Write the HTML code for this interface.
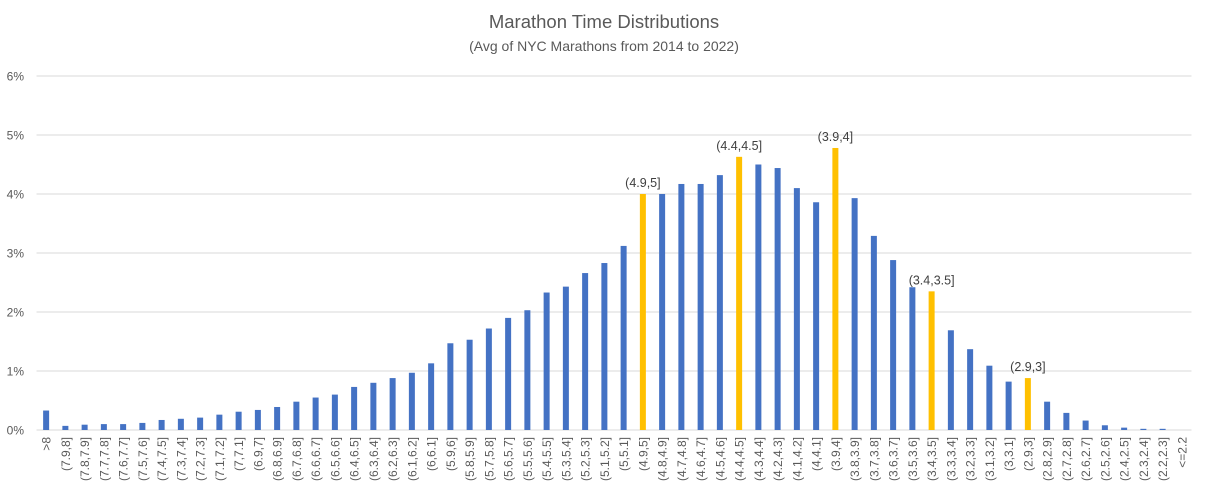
<!DOCTYPE html>
<html><head><meta charset="utf-8"><style>
body{margin:0;background:#fff;}
svg{display:block;font-family:"Liberation Sans",Arial,sans-serif;}
</style></head><body>
<svg id="chart" width="1208" height="494">
<text x="604" y="28" text-anchor="middle" font-size="18.5" fill="#595959">Marathon Time Distributions</text>
<text x="604" y="51" text-anchor="middle" font-size="14" fill="#595959">(Avg of NYC Marathons from 2014 to 2022)</text>
<g id="grid"></g><g id="bars"></g><g id="labels"></g>
</svg>
<script>
const categories = [">8","(7.9,8]","(7.8,7.9]","(7.7,7.8]","(7.6,7.7]","(7.5,7.6]","(7.4,7.5]","(7.3,7.4]","(7.2,7.3]","(7.1,7.2]","(7,7.1]","(6.9,7]","(6.8,6.9]","(6.7,6.8]","(6.6,6.7]","(6.5,6.6]","(6.4,6.5]","(6.3,6.4]","(6.2,6.3]","(6.1,6.2]","(6,6.1]","(5.9,6]","(5.8,5.9]","(5.7,5.8]","(5.6,5.7]","(5.5,5.6]","(5.4,5.5]","(5.3,5.4]","(5.2,5.3]","(5.1,5.2]","(5,5.1]","(4.9,5]","(4.8,4.9]","(4.7,4.8]","(4.6,4.7]","(4.5,4.6]","(4.4,4.5]","(4.3,4.4]","(4.2,4.3]","(4.1,4.2]","(4,4.1]","(3.9,4]","(3.8,3.9]","(3.7,3.8]","(3.6,3.7]","(3.5,3.6]","(3.4,3.5]","(3.3,3.4]","(3.2,3.3]","(3.1,3.2]","(3,3.1]","(2.9,3]","(2.8,2.9]","(2.7,2.8]","(2.6,2.7]","(2.5,2.6]","(2.4,2.5]","(2.3,2.4]","(2.2,2.3]","<=2.2"];
const values = [0.33,0.07,0.09,0.1,0.1,0.12,0.17,0.19,0.21,0.26,0.31,0.34,0.39,0.48,0.55,0.6,0.73,0.8,0.88,0.97,1.13,1.47,1.53,1.72,1.9,2.03,2.33,2.43,2.66,2.83,3.12,4.0,4.0,4.17,4.17,4.32,4.63,4.5,4.44,4.1,3.86,4.78,3.93,3.29,2.88,2.42,2.35,1.69,1.37,1.09,0.82,0.88,0.48,0.29,0.16,0.08,0.04,0.02,0.02,0];
const highlighted = ["(4.9,5]","(4.4,4.5]","(3.9,4]","(3.4,3.5]","(2.9,3]"];
const yTicks = [0,1,2,3,4,5,6];
const NS="http://www.w3.org/2000/svg";
const L=36.5,R=1191.5,Y0=430,PX=59;
const step=(R-L)/categories.length;
const xc=i=>L+step*(i+0.5), y=v=>Y0-v*PX;
function mk(t,a,p){const e=document.createElementNS(NS,t);for(const k in a)e.setAttribute(k,a[k]);p.appendChild(e);return e;}
const grid=document.getElementById('grid'),bars=document.getElementById('bars'),labels=document.getElementById('labels');
yTicks.forEach(t=>{
  const g=mk('line',{x1:L,x2:R,y1:y(t),y2:y(t),stroke:'#d9d9d9','stroke-width':1},grid);
  
  
  const tx=mk('text',{x:24,y:y(t)+4.5,'text-anchor':'end','font-size':12,fill:'#595959'},grid);
  tx.textContent=t+'%';
  
  
});
categories.forEach((c,i)=>{
  const hi=highlighted.includes(c);
  const v=values[i];
  const r=mk('rect',{x:xc(i)-3,y:y(v),width:6,height:v*PX,fill:hi?'#FFC000':'#4472C4'},bars);
  
  
  if(hi){
    const d=mk('text',{x:xc(i),y:y(v)-7,'text-anchor':'middle','font-size':12.5,fill:'#404040'},labels);
    d.textContent=c;
    
    
  }
  const t=mk('text',{x:0,y:0,'text-anchor':'end','font-size':12,fill:'#595959',transform:`translate(${xc(i)+4.5},437) rotate(-90)`},labels);
  t.textContent=c;
  
  
});
</script>
</body></html>
